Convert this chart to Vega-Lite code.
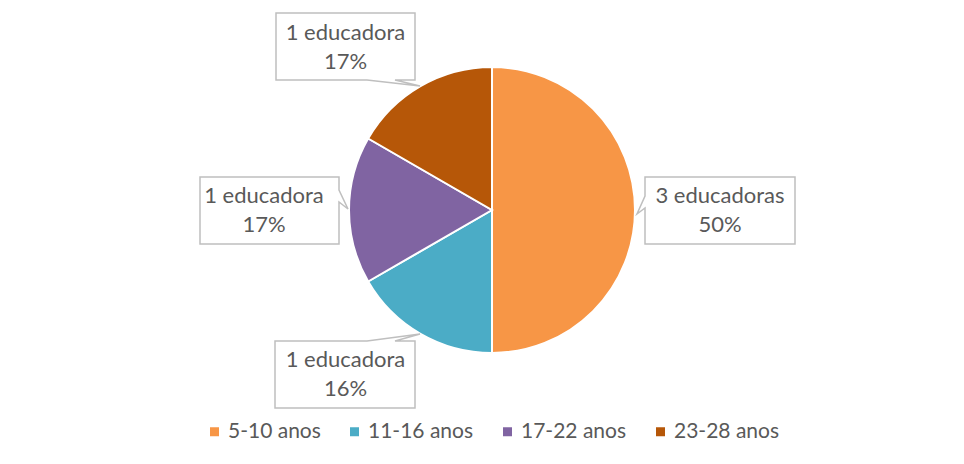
{
  "$schema": "https://vega.github.io/schema/vega-lite/v6.json",
  "width": 957,
  "height": 455,
  "autosize": "none",
  "padding": {"left": 9, "top": 11, "right": 0, "bottom": 0},
  "background": "white",
  "config": {"view": {"stroke": "#D9D9D9", "strokeWidth": 1}, "font": "Lato"},
  "data": {"values": [
    {"categoria": "5-10 anos", "educadoras": 3, "ordem": 1, "rotulo": "3 educadoras\n50%"},
    {"categoria": "11-16 anos", "educadoras": 1, "ordem": 2, "rotulo": "1 educadora\n16%"},
    {"categoria": "17-22 anos", "educadoras": 1, "ordem": 3, "rotulo": "1 educadora\n17%"},
    {"categoria": "23-28 anos", "educadoras": 1, "ordem": 4, "rotulo": "1 educadora\n17%"}
  ]},
  "layer": [
    {
      "mark": {"type": "arc", "radius": 143, "x": 483, "y": 199, "stroke": "white", "strokeWidth": 2},
      "encoding": {
        "theta": {"field": "educadoras", "type": "quantitative", "stack": true},
        "order": {"field": "ordem", "type": "quantitative"},
        "color": {
          "field": "categoria", "type": "nominal",
          "scale": {"domain": ["5-10 anos", "11-16 anos", "17-22 anos", "23-28 anos"], "range": ["#F79646", "#4BACC6", "#8064A2", "#B65708"]},
          "legend": {
            "title": null, "orient": "none", "legendX": 195, "legendY": 410, "direction": "horizontal",
            "symbolType": "square", "symbolSize": 81, "symbolStrokeWidth": 0, "symbolOpacity": 1,
            "labelFont": "Lato", "labelFontSize": 21, "labelColor": "#595959", "labelOffset": 3, "columnPadding": 23
          }
        }
      }
    },
    {
      "mark": {"type": "point", "x": 483, "y": 199, "size": 40000, "filled": true, "fill": "white", "stroke": "#BFBFBF", "strokeWidth": 1.5, "opacity": 1},
      "encoding": {
        "shape": {
          "field": "ordem", "type": "nominal",
          "scale": {
            "domain": [1, 2, 3, 4],
            "range": [
              "M1.53,-0.33H3.03V0.34H1.53V-0.02L1.45,0.04L1.53,-0.14Z",
              "M-2.17,1.31H-1.25L-0.72,1.24L-0.97,1.31H-0.77V1.98H-2.17Z",
              "M-2.92,-0.33H-1.53V-0.20L-1.44,-0.01L-1.53,-0.08V0.34H-2.92Z",
              "M-2.16,-1.97H-0.77V-1.30H-0.97L-0.72,-1.24L-1.25,-1.30H-2.16Z"
            ]
          },
          "legend": null
        }
      }
    },
    {
      "mark": {
        "type": "text", "radius": 163, "x": 483, "y": 199, "font": "Lato", "fontSize": 22, "color": "#595959",
        "lineBreak": "\n", "lineHeight": 29, "align": "center", "baseline": "middle",
        "dx": {"expr": "datum.categoria === '5-10 anos' ? 65 : -65"},
        "dy": {"expr": "datum.categoria === '23-28 anos' ? -36 : (datum.categoria === '11-16 anos' ? 9 : -14)"}
      },
      "encoding": {
        "theta": {"field": "educadoras", "type": "quantitative", "stack": true},
        "order": {"field": "ordem", "type": "quantitative"},
        "text": {"field": "rotulo", "type": "nominal"}
      }
    }
  ]
}
